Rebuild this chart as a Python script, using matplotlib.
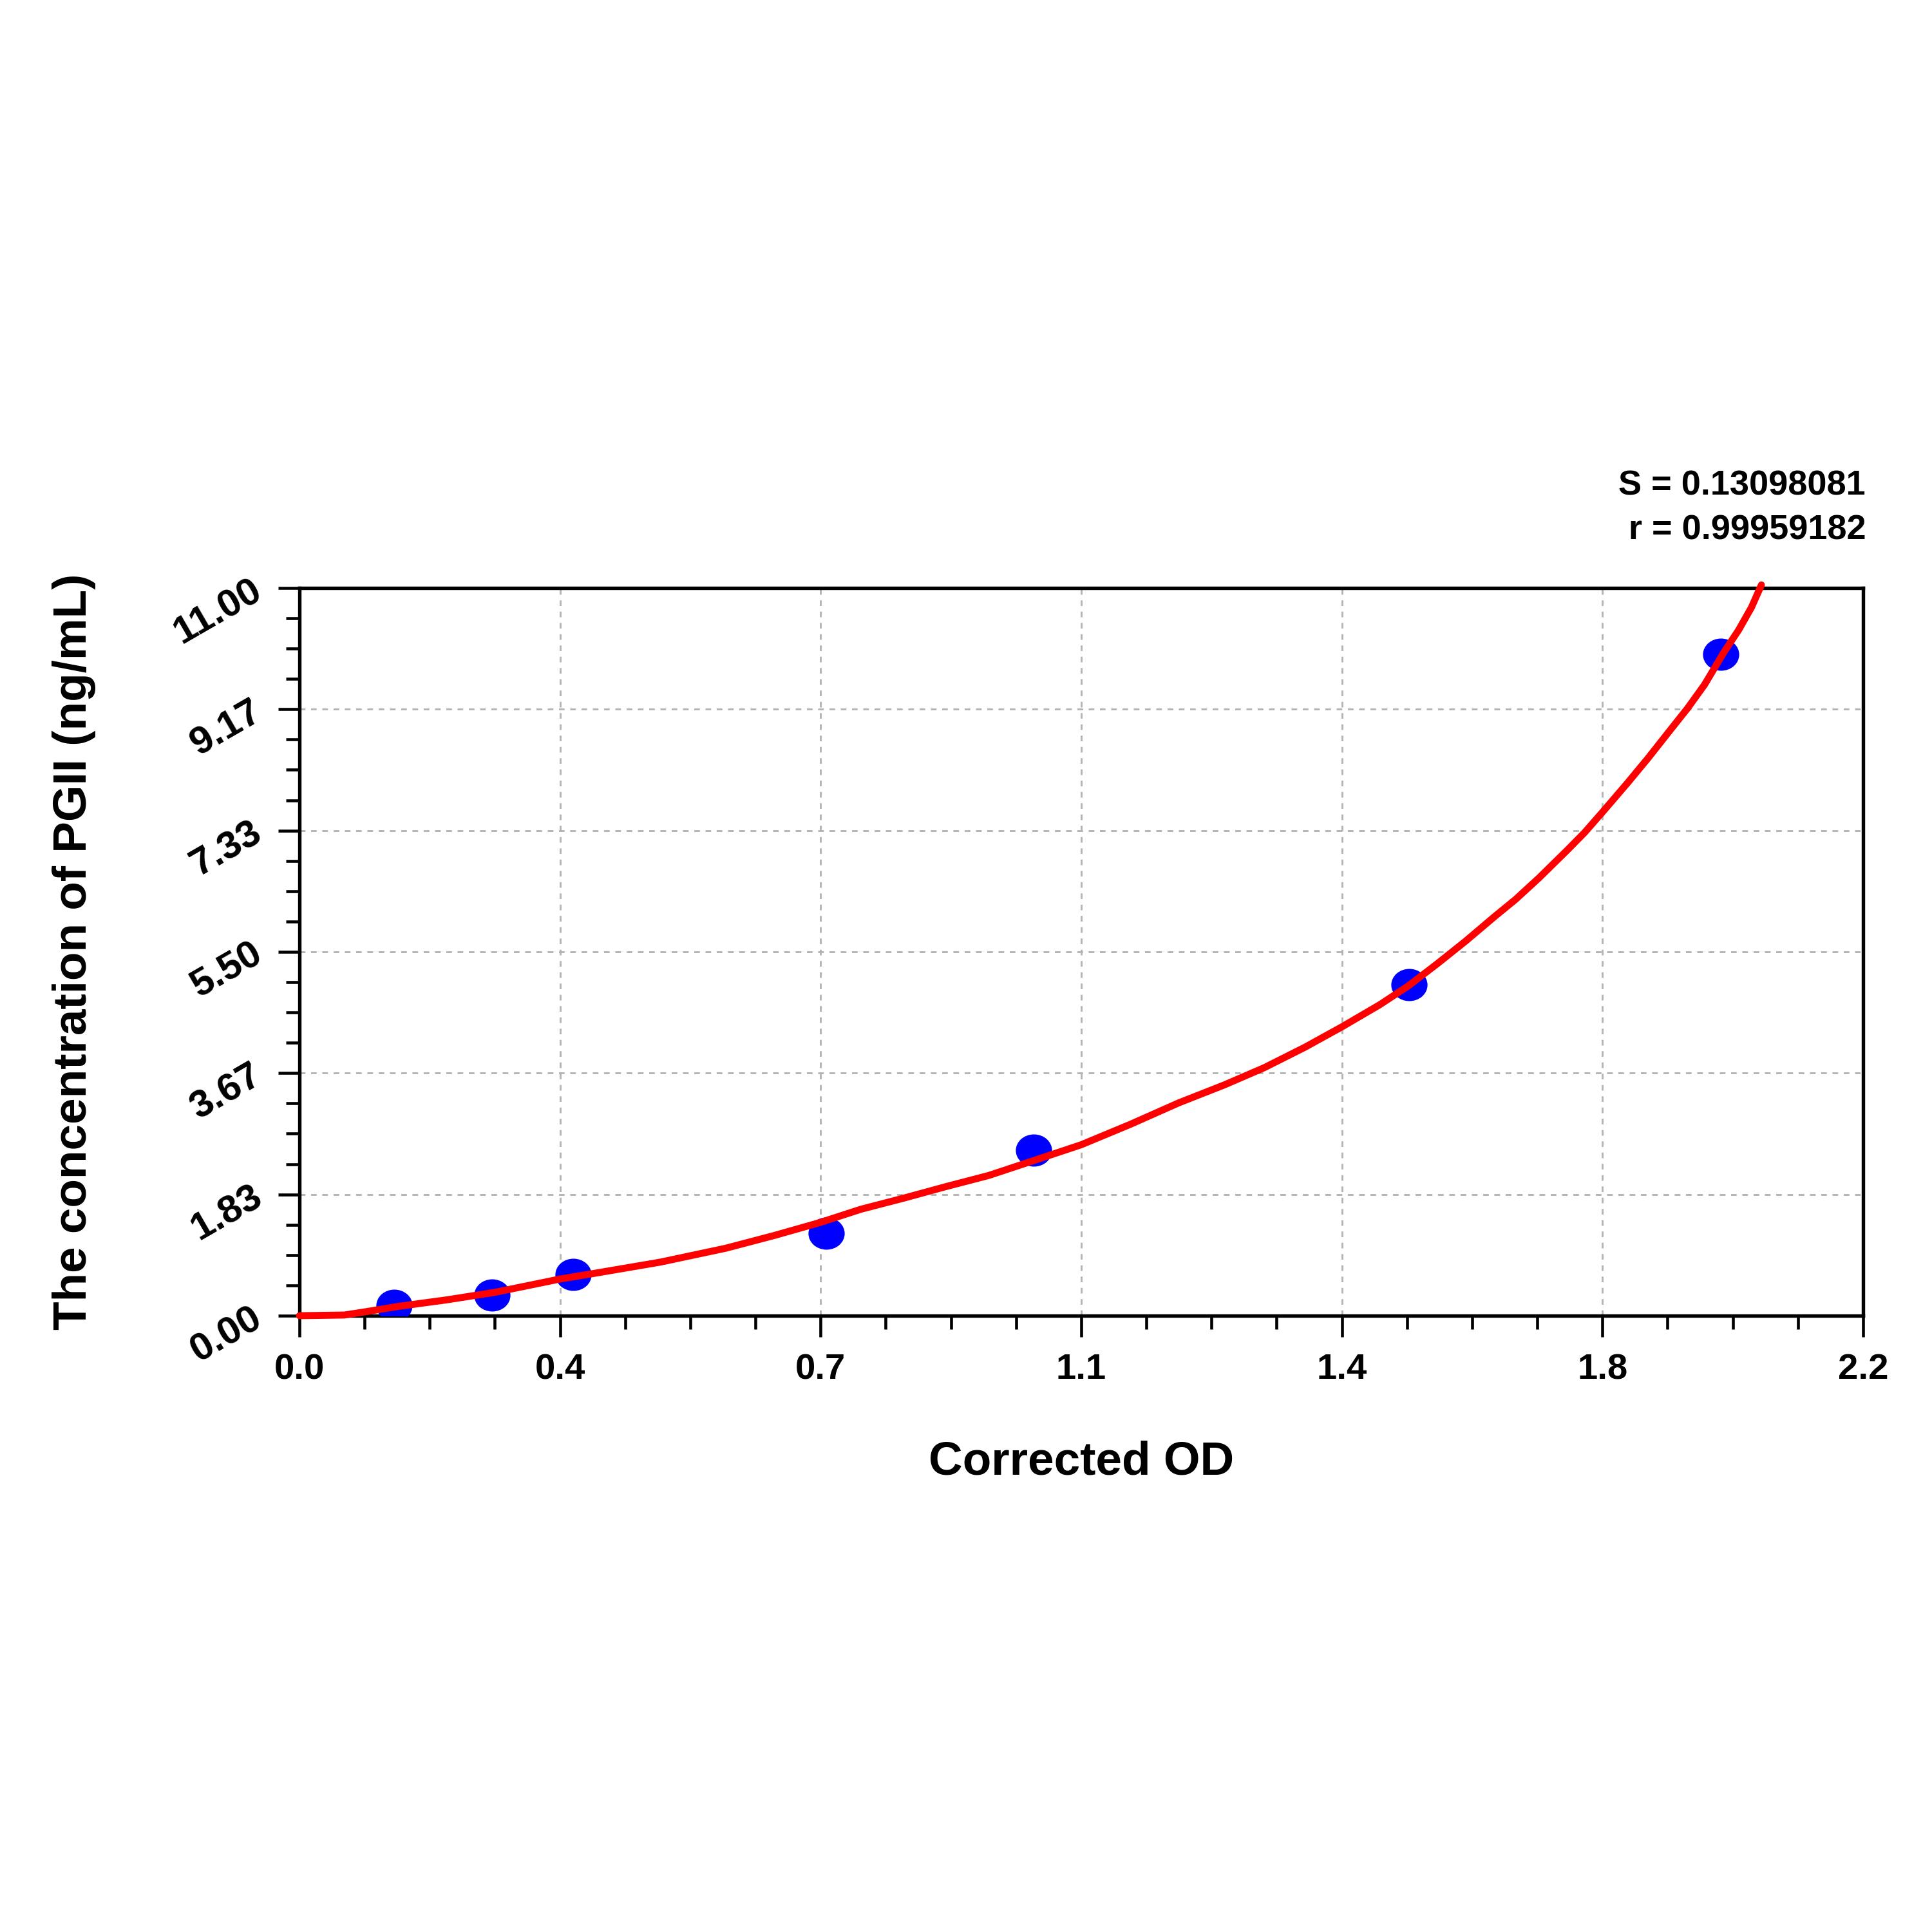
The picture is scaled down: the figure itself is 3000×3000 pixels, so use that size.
import matplotlib.pyplot as plt
import numpy as np
from matplotlib.ticker import FixedLocator
from matplotlib.path import Path

plt.rcParams['font.family'] = ['Liberation Sans', 'DejaVu Sans']
plt.rcParams['font.weight'] = 'bold'

# standard points
od = [0.133, 0.271, 0.385, 0.741, 1.033, 1.561, 2.000]
conc = [0.156, 0.3125, 0.625, 1.25, 2.5, 5.0, 10.0]

# fitted curve
curve_od = [0.0, 0.063, 0.091, 0.138, 0.207, 0.276, 0.367, 0.415, 0.508, 0.600,
            0.669, 0.733, 0.790, 0.850, 0.910, 0.970, 1.031, 1.100, 1.169, 1.237,
            1.302, 1.358, 1.415, 1.467, 1.520, 1.560, 1.601, 1.641, 1.682, 1.711,
            1.744, 1.784, 1.808, 1.833, 1.868, 1.898, 1.929, 1.953, 1.977, 2.004,
            2.025, 2.043, 2.057]
curve_conc = [0.0, 0.01, 0.056, 0.139, 0.239, 0.355, 0.555, 0.64, 0.81, 1.02,
              1.215, 1.41, 1.609, 1.776, 1.952, 2.12, 2.337, 2.584, 2.892, 3.216,
              3.491, 3.751, 4.059, 4.367, 4.70, 4.983, 5.32, 5.663, 6.036, 6.291,
              6.616, 7.038, 7.30, 7.606, 8.044, 8.433, 8.855, 9.179, 9.537, 10.023,
              10.364, 10.705, 11.045]

x_ticks = [0.0, 0.36667, 0.73333, 1.1, 1.46667, 1.83333, 2.2]
x_labels = ['0.0', '0.4', '0.7', '1.1', '1.4', '1.8', '2.2']
y_ticks = [0.0, 1.83333, 3.66667, 5.5, 7.33333, 9.16667, 11.0]
y_labels = ['0.00', '1.83', '3.67', '5.50', '7.33', '9.17', '11.00']

s_text = 'S = 0.13098081'
r_text = 'r = 0.99959182'

# slightly flattened dot
circ = Path.unit_circle()
dot = Path(circ.vertices * np.array([1.0, 0.88]), circ.codes)

fig = plt.figure(figsize=(10, 10), dpi=300)
ax = fig.add_axes([0.155, 0.319, 0.8093, 0.3767])

ax.plot(od, conc, linestyle='none', marker=dot, color='#0000ff',
        markersize=12.5, zorder=3)
ax.plot(curve_od, curve_conc, '-', color='#ff0000', linewidth=2.6,
        solid_capstyle='round', solid_joinstyle='round', zorder=4, clip_on=False)

ax.set_xlim(0, 2.2)
ax.set_ylim(0, 11)

ax.xaxis.set_major_locator(FixedLocator(x_ticks))
ax.yaxis.set_major_locator(FixedLocator(y_ticks))
xm = []
for a, b in zip(x_ticks[:-1], x_ticks[1:]):
    xm += [a + (b - a) * k / 4 for k in (1, 2, 3)]
ym = []
for a, b in zip(y_ticks[:-1], y_ticks[1:]):
    ym += [a + (b - a) * k / 4 for k in (1, 2, 3)]
ax.xaxis.set_minor_locator(FixedLocator(xm))
ax.yaxis.set_minor_locator(FixedLocator(ym))

ax.set_xticklabels(x_labels, fontsize=13.5, fontweight='bold')
ax.set_yticklabels(y_labels, fontsize=14.5, fontweight='bold',
                   rotation=30, rotation_mode='anchor', ha='right', va='center')

ax.tick_params(axis='both', which='major', direction='out', length=8, width=1.1)
ax.tick_params(axis='both', which='minor', direction='out', length=5, width=1.1)
ax.tick_params(axis='x', which='major', pad=6)
ax.tick_params(axis='y', which='major', pad=7)

for sp in ax.spines.values():
    sp.set_linewidth(1.3)

ax.grid(True, which='major', color='#b4b4b4', linestyle=(0, (3, 3)), linewidth=0.7)
ax.set_axisbelow(True)

ax.set_xlabel('Corrected OD', fontsize=17.5, fontweight='bold', labelpad=20)
ax.set_ylabel('The concentration of PGII (ng/mL)', fontsize=17.5, fontweight='bold')
ax.yaxis.set_label_coords(-0.13, 0.5)

fig.text(0.9657, 0.7437, s_text, ha='right', va='baseline', fontsize=13, fontweight='bold')
fig.text(0.9657, 0.7207, r_text, ha='right', va='baseline', fontsize=13, fontweight='bold')

fig.savefig('out.png', dpi=300, facecolor='white')
